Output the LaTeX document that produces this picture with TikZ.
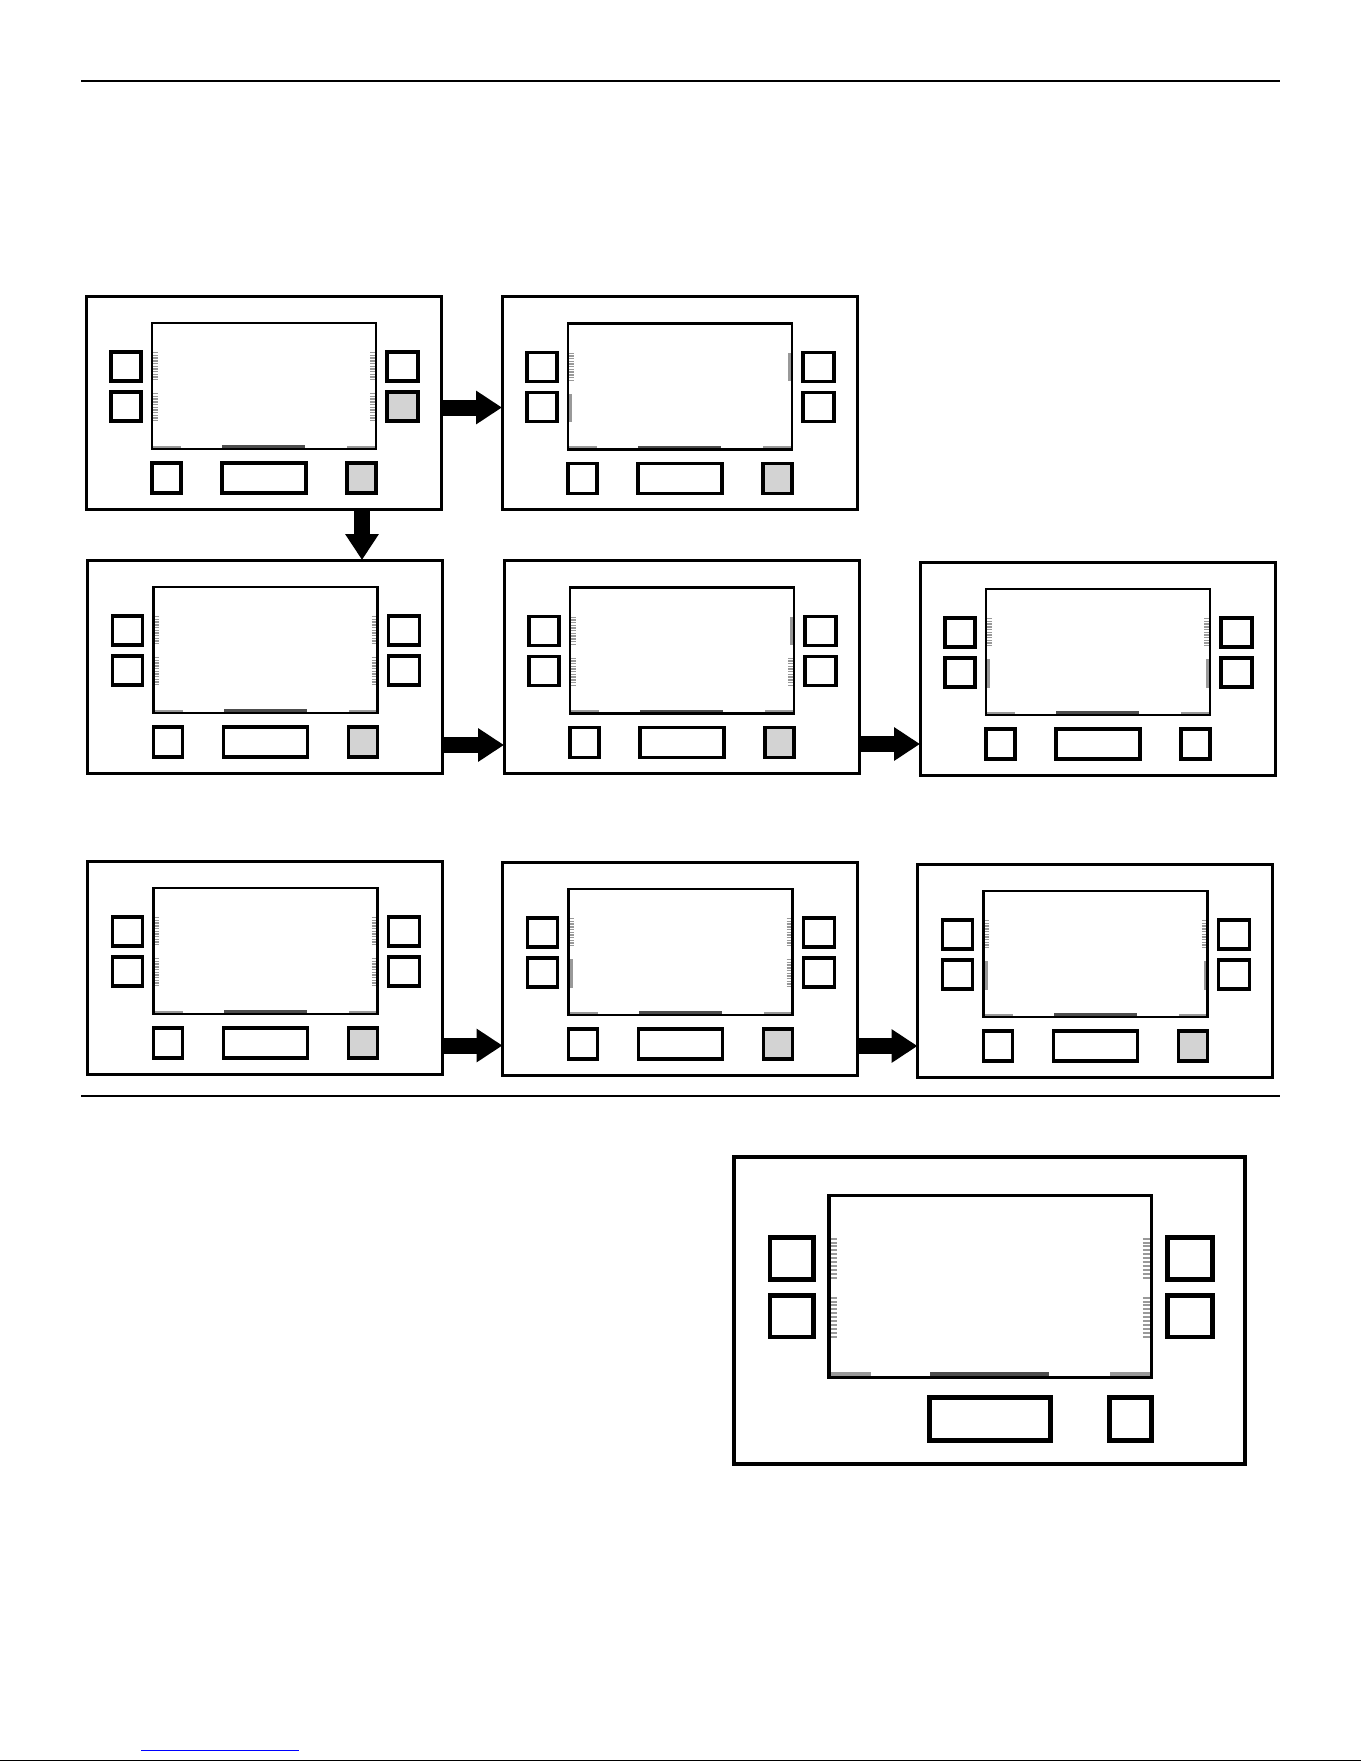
\documentclass[tikz,border=0pt]{standalone}
\usetikzlibrary{arrows.meta}
\definecolor{btnfill}{RGB}{211,211,211}
\definecolor{tickgray}{RGB}{153,153,153}
\definecolor{bargray}{RGB}{77,77,77}
\newif\ifdevsmall
% indicator: #1 type (t ticks, b bar, n none), #2 side L/R, #3 top y, #4 scale
\newcommand{\devind}[4]{%
  \if#2L\def\tA{67}\def\tB{71.5}\def\bA{67}\def\bB{70}\else\def\tA{284}\def\tB{288.6}\def\bA{286}\def\bB{289}\fi
  \if#1t
    \foreach \k in {0,...,10}
      \draw[tickgray, line width=#4*1.4pt] (\tA,#3+0.7+\k*2.7) -- (\tB,#3+0.7+\k*2.7);
  \fi
  \if#1b
    \fill[tickgray] (\bA,#3) rectangle (\bB,#3+28.5);
  \fi
}
% panel: #1 name, #2 x, #3 y, #4 scale, #5 LT, #6 LB, #7 RT, #8 RB, #9 settings
\newcommand{\devpanel}[9]{%
  \begingroup
  \def\rsfill{white}\def\brfill{btnfill}\devsmalltrue
  #9%
  \begin{scope}[shift={(#2,#3)}, scale=#4]
    \node[panelbox, line width=#4*3pt, minimum width=#4*355pt, minimum height=#4*213pt] (#1) at (177.5,106.5) {};
    \fill[tickgray] (67,149.6) rectangle (95,152);
    \fill[bargray] (136,149.3) rectangle (219,152);
    \fill[tickgray] (261,149.6) rectangle (289,152);
    \devind{#5}{L}{56}{#4}
    \devind{#6}{L}{97}{#4}
    \devind{#7}{R}{56}{#4}
    \devind{#8}{R}{97}{#4}
    \draw[line width=#4*2.2pt] (66,27) rectangle (290,153);
    \draw[line width=#4*3.4pt] (25,56) rectangle (55,85);
    \draw[line width=#4*3.4pt] (25,96) rectangle (55,125);
    \draw[line width=#4*3.4pt] (301,56) rectangle (332,85);
    \draw[line width=#4*3.4pt, fill=\rsfill] (301,96) rectangle (332,125);
    \ifdevsmall\draw[line width=#4*3.4pt] (66,167) rectangle (95,197);\fi
    \draw[line width=#4*3.4pt] (136,167) rectangle (220,197);
    \draw[line width=#4*3.4pt, fill=\brfill] (261,167) rectangle (290,197);
  \end{scope}
  \endgroup
}
\tikzset{
  panelbox/.style={draw, rectangle, inner sep=0pt, outer sep=0pt},
  blockarrow/.style={line width=16pt, -{Triangle[width=32pt,length=26pt]}},
  rule/.style={line width=1.4pt}
}
\begin{document}
\begin{tikzpicture}[x=1pt, y=-1pt]
  \useasboundingbox (0,0) rectangle (1361,1761);
  % rules
  \coordinate (r1a) at (81,80.8);  \coordinate (r1b) at (1280,80.8);
  \coordinate (r2a) at (81,1096);  \coordinate (r2b) at (1280,1096);
  \coordinate (r3a) at (0,1760.2); \coordinate (r3b) at (1361,1760.2);
  \coordinate (lka) at (141,1750); \coordinate (lkb) at (299,1750);
  \draw[rule] (r1a) -- (r1b);
  \draw[rule] (r2a) -- (r2b);
  \draw[rule] (r3a) -- (r3b);
  \draw[blue, line width=1pt] (lka) -- (lkb);
  % panels
  \devpanel{A}{86}{296}{1}{t}{t}{t}{t}{\def\rsfill{btnfill}}
  \devpanel{B}{502}{296.5}{1}{t}{b}{b}{n}{}
  \devpanel{C}{87.5}{560}{1}{t}{t}{t}{t}{}
  \devpanel{D}{504}{560.5}{1}{t}{t}{b}{t}{}
  \devpanel{E}{920}{562}{1}{t}{b}{t}{b}{\def\brfill{white}}
  \devpanel{F}{87.5}{861}{1}{t}{t}{t}{t}{}
  \devpanel{G}{502.5}{862}{1}{t}{b}{t}{t}{}
  \devpanel{H}{917.5}{864}{1}{t}{b}{t}{b}{}
  \devpanel{Big}{734}{1157}{1.44}{t}{t}{t}{t}{\def\brfill{white}\devsmallfalse}
  % arrows
  \draw[blockarrow] ([yshift=-5pt]A.east) -- ([yshift=-5pt]A.east -| B.west);
  \draw[blockarrow] ([xshift=98.5pt]A.south) -- ([xshift=98.5pt]A.south |- C.north);
  \draw[blockarrow] ([yshift=-78.5pt]C.east) -- ([yshift=-78.5pt]C.east -| D.west);
  \draw[blockarrow] ([yshift=-77pt]D.east) -- ([yshift=-77pt]D.east -| E.west);
  \draw[blockarrow] ([yshift=-78pt]F.east) -- ([yshift=-78pt]F.east -| G.west);
  \draw[blockarrow] ([yshift=-77.5pt]G.east) -- ([yshift=-77.5pt]G.east -| H.west);
\end{tikzpicture}
\end{document}
